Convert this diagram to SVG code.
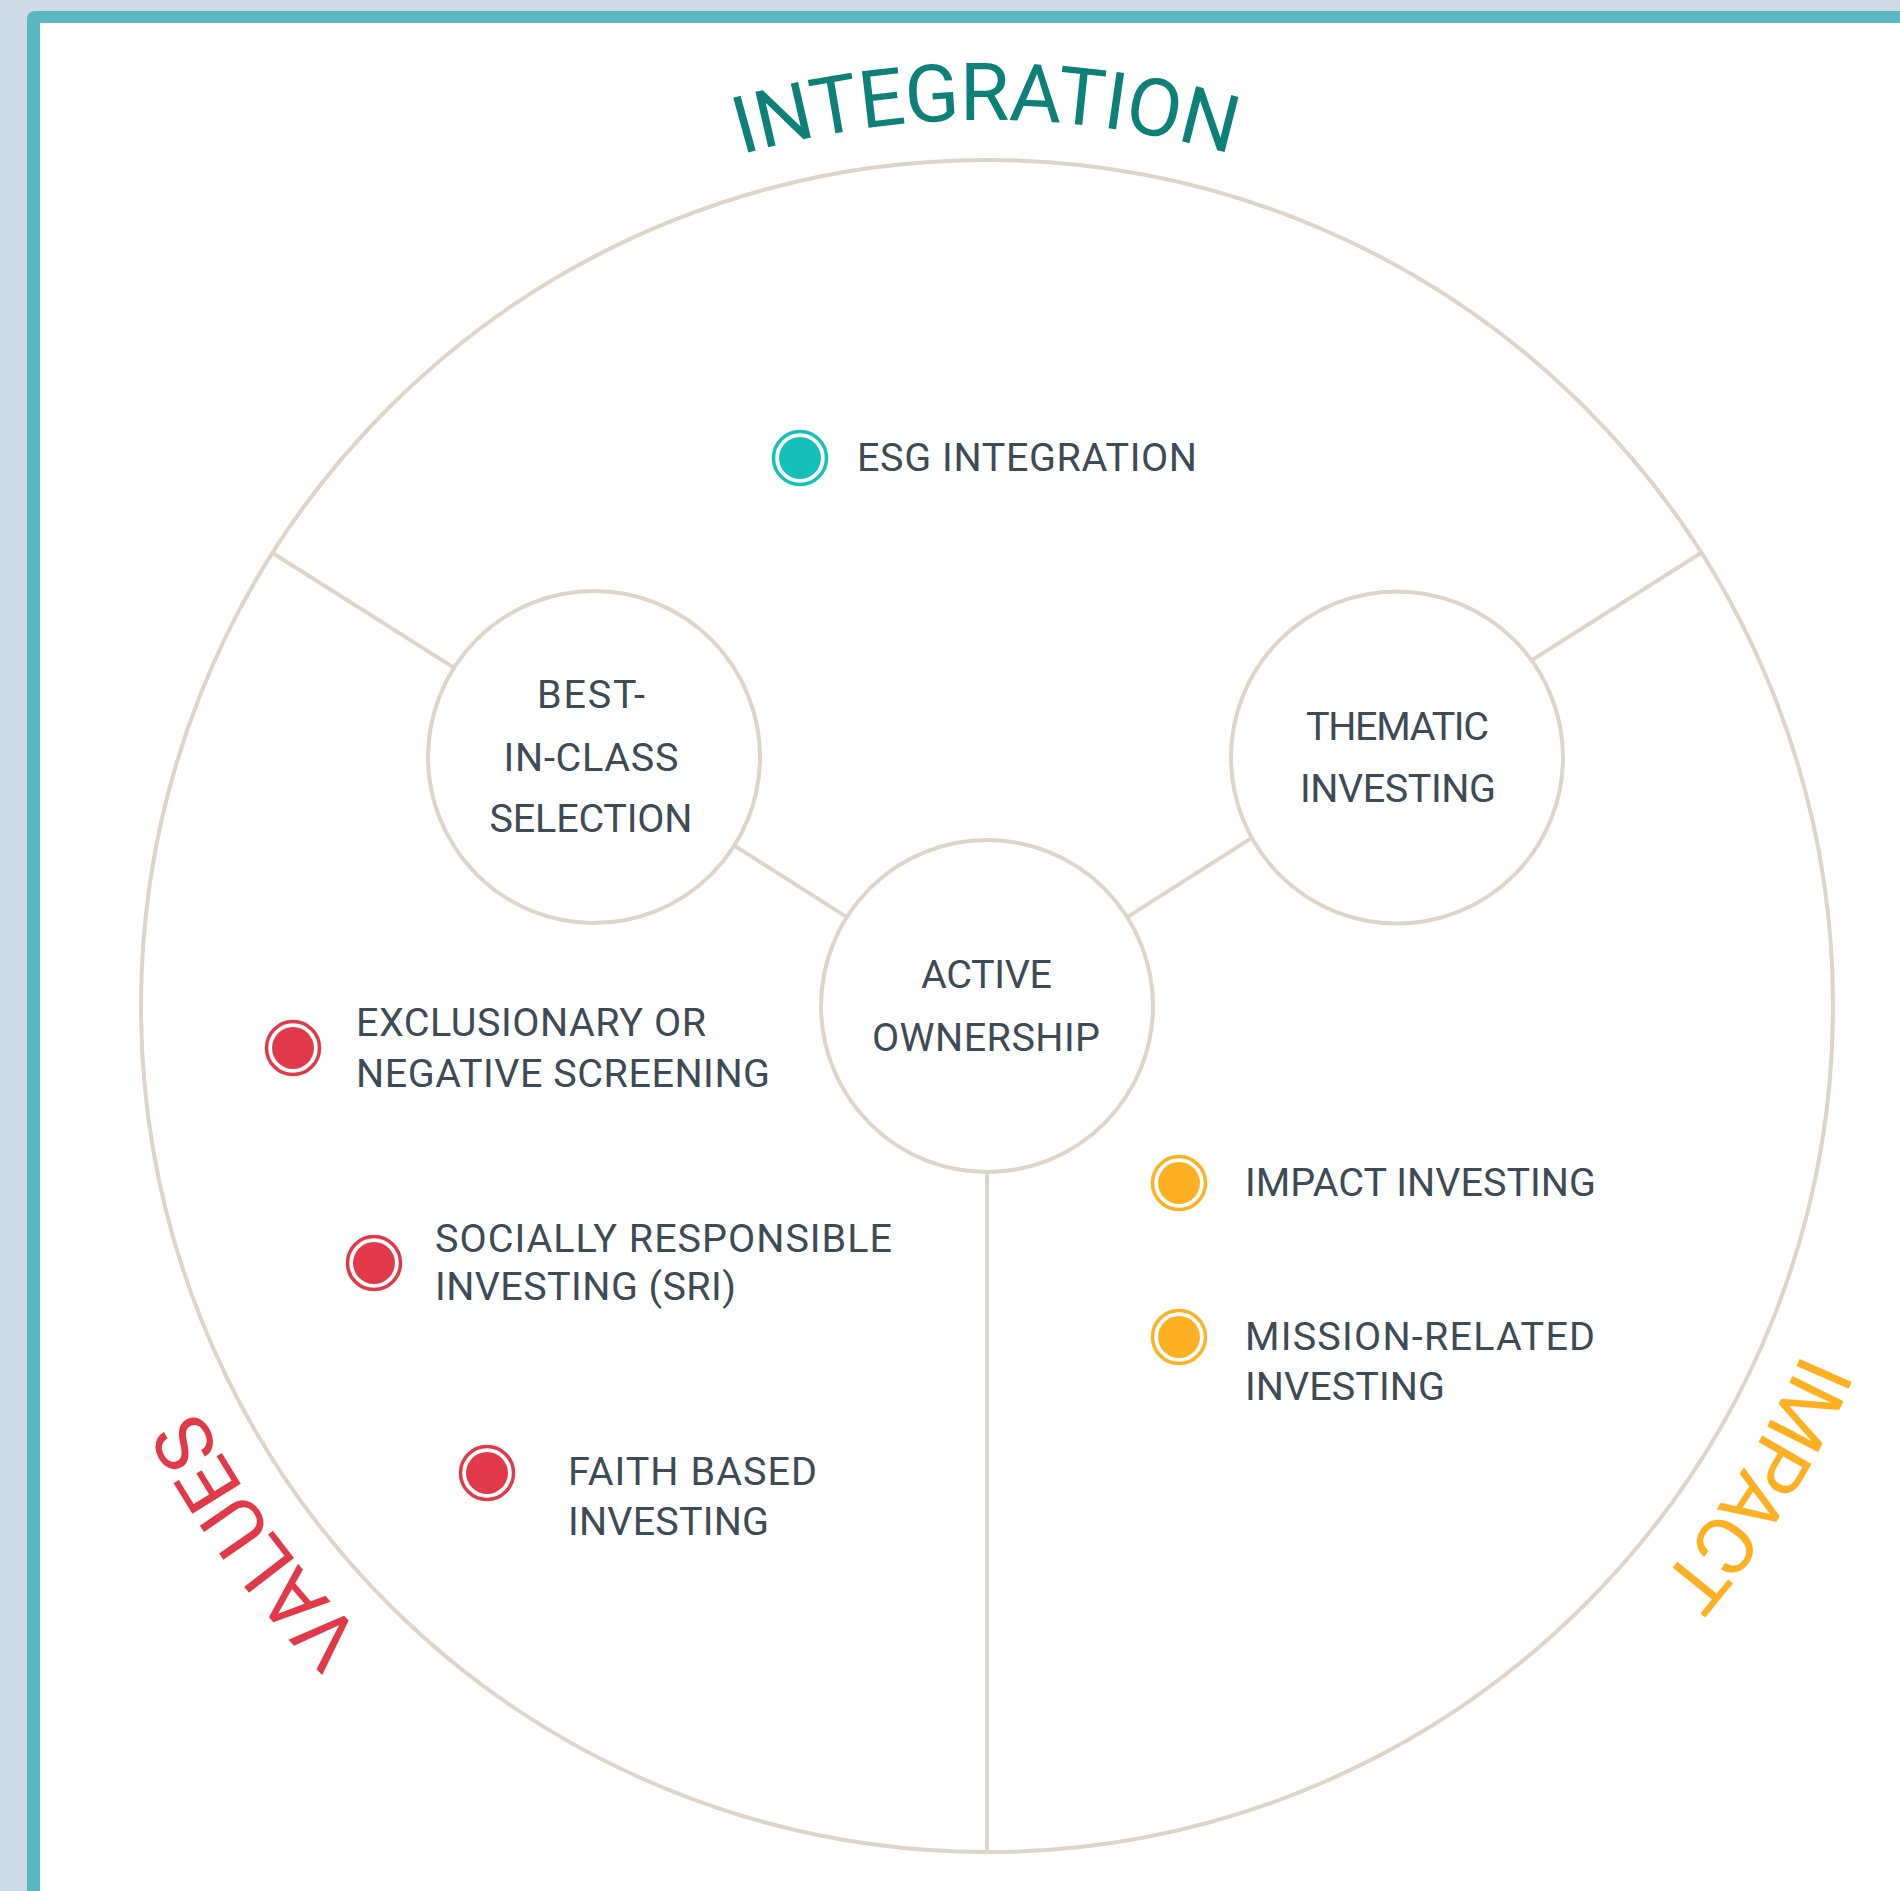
<svg xmlns="http://www.w3.org/2000/svg" xmlns:xlink="http://www.w3.org/1999/xlink" width="1900" height="1891" viewBox="0 0 1900 1891">
<style>
.ln{stroke:#ddd4ca;stroke-width:4;fill:none}
.nc{stroke:#ddd4ca;stroke-width:4;fill:#ffffff}
.t{font-family:Roboto,"Liberation Sans",sans-serif;font-size:39.5px;fill:#3e4a54;font-weight:400}
.tc{text-anchor:middle}
.arc{font-family:Roboto,"Liberation Sans",sans-serif;font-size:80px;font-weight:400}
.red .ring{stroke:#e2394a}.red .dot{fill:#e2394a}
.org .ring{stroke:#fdb022}.org .dot{fill:#fdb022}
.tea .ring{stroke:#17bfbb}.tea .dot{fill:#17bfbb}
.ring{fill:none;stroke-width:3.5}
</style>
<defs>
<path id="tp" d="M 1873 1006 A 886 886 0 1 1 101 1006 A 886 886 0 1 1 1873 1006"/>
</defs>
<rect x="0" y="0" width="1900" height="1891" fill="#cfdbe6"/>
<rect x="27" y="11" width="1900" height="1900" rx="8" fill="#5bb8c2"/>
<rect x="40" y="23" width="1880" height="1880" fill="#ffffff"/>

<g id="outer-ring"><circle cx="987" cy="1006" r="846" class="ln"/></g>

<g id="connectors">
<line class="ln" x1="272.7" y1="553" x2="454.2" y2="667.9"/>
<line class="ln" x1="734.3" y1="845.6" x2="846.8" y2="917.1"/>
<line class="ln" x1="1701.3" y1="552.7" x2="1531.5" y2="660.4"/>
<line class="ln" x1="1251.8" y1="837.9" x2="1127.2" y2="917.1"/>
<line class="ln" x1="987" y1="1172" x2="987" y2="1852"/>
</g>

<g id="node-best-in-class">
<circle class="nc" cx="594" cy="757" r="166"/>
<text class="t tc" x="591" y="708" textLength="108">BEST-</text>
<text class="t tc" x="591" y="771" textLength="175">IN-CLASS</text>
<text class="t tc" x="591" y="832" textLength="203">SELECTION</text>
</g>

<g id="node-thematic">
<circle class="nc" cx="1397" cy="757.5" r="166"/>
<text class="t tc" x="1397.5" y="740" textLength="183">THEMATIC</text>
<text class="t tc" x="1398" y="802" textLength="196">INVESTING</text>
</g>

<g id="node-active-ownership">
<circle class="nc" cx="987" cy="1006" r="166"/>
<text class="t tc" x="986.5" y="988" textLength="131">ACTIVE</text>
<text class="t tc" x="986" y="1051" textLength="228">OWNERSHIP</text>
</g>

<g id="item-esg" class="tea">
<circle class="ring" cx="800" cy="458" r="26.5"/>
<circle class="dot" cx="800" cy="458" r="21"/>
<text class="t" x="857" y="471" textLength="340">ESG INTEGRATION</text>
</g>

<g id="item-exclusionary" class="red">
<circle class="ring" cx="293" cy="1048" r="26.5"/>
<circle class="dot" cx="293" cy="1048" r="21"/>
<text class="t" x="356" y="1036" textLength="350">EXCLUSIONARY OR</text>
<text class="t" x="356" y="1087" textLength="414">NEGATIVE SCREENING</text>
</g>

<g id="item-sri" class="red">
<circle class="ring" cx="374" cy="1263" r="26.5"/>
<circle class="dot" cx="374" cy="1263" r="21"/>
<text class="t" x="435" y="1252" textLength="457">SOCIALLY RESPONSIBLE</text>
<text class="t" x="435" y="1300" textLength="301">INVESTING (SRI)</text>
</g>

<g id="item-faith" class="red">
<circle class="ring" cx="487" cy="1473" r="26.5"/>
<circle class="dot" cx="487" cy="1473" r="21"/>
<text class="t" x="568" y="1485" textLength="249">FAITH BASED</text>
<text class="t" x="568" y="1535" textLength="201">INVESTING</text>
</g>

<g id="item-impact" class="org">
<circle class="ring" cx="1179" cy="1183" r="26.5"/>
<circle class="dot" cx="1179" cy="1183" r="21"/>
<text class="t" x="1245" y="1196" textLength="351">IMPACT INVESTING</text>
</g>

<g id="item-mission" class="org">
<circle class="ring" cx="1179" cy="1337" r="26.5"/>
<circle class="dot" cx="1179" cy="1337" r="21"/>
<text class="t" x="1245" y="1350" textLength="350">MISSION-RELATED</text>
<text class="t" x="1245" y="1400" textLength="200">INVESTING</text>
</g>

<g id="label-integration">
<text class="arc" fill="#0e8077"><textPath href="#tp" startOffset="3926" textLength="496" lengthAdjust="spacing">INTEGRATION</textPath></text>
</g>
<g id="label-values">
<text class="arc" fill="#e2394a"><textPath href="#tp" startOffset="2082" textLength="282" lengthAdjust="spacing">VALUES</textPath></text>
</g>
<g id="label-impact">
<text class="arc" fill="#fdb022"><textPath href="#tp" startOffset="356" textLength="272" lengthAdjust="spacing">IMPACT</textPath></text>
</g>
</svg>
